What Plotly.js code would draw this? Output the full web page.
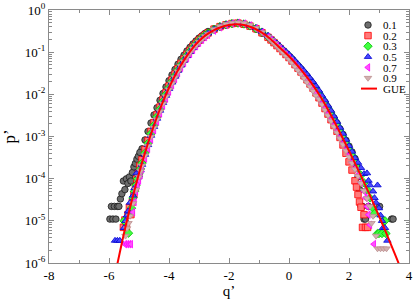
<!DOCTYPE html>
<html>
<head>
<meta charset="utf-8">
<script src="https://cdn.plot.ly/plotly-3.0.1.min.js"></script>
<style>html,body{margin:0;padding:0;background:#fff;}#chart{width:415px;height:299px;}</style>
</head>
<body>
<div id="chart"></div>
<script>
// ---- data ----
const seriesNames = ['0.1', '0.2', '0.3', '0.5', '0.7', '0.9'];
const xTickVals = [-8, -6, -4, -2, 0, 2, 4];
const xTickText = ['-8', '-6', '-4', '-2', '0', '2', '4'];
const yTickVals = [1e-6, 1e-5, 1e-4, 1e-3, 1e-2, 1e-1, 1];
const yTickText = ['10<sup>-6</sup>', '10<sup>-5</sup>', '10<sup>-4</sup>', '10<sup>-3</sup>', '10<sup>-2</sup>', '10<sup>-1</sup>', '10<sup>0</sup>'];

// shared histogram bins of the central part
const coreX = [-4.9,-4.8,-4.7,-4.6,-4.5,-4.4,-4.3,-4.2,-4.1,-4.0,-3.9,-3.8,-3.7,-3.6,-3.5,-3.4,-3.3,-3.2,-3.1,-3.0,-2.9,-2.8,-2.7,
  -2.5,-2.3,-2.1,-1.9,-1.7,-1.5,-1.3,-1.1,-0.9,
  -0.7,-0.6,-0.5,-0.4,-0.3,-0.2,-0.1,0.0,0.1,0.2,0.3,0.4,0.5,0.6,0.7,0.8,0.9,1.0,1.1,1.2,1.3,1.4,1.5,1.6,1.7,1.8,1.9,2.0,2.1,2.2];

// series 0.1
const y01Core = [5.1e-4,8.3e-4,1.32e-3,2.09e-3,3.24e-3,4.8e-3,7.2e-3,1.05e-2,1.5e-2,2.11e-2,2.88e-2,3.89e-2,5.19e-2,6.76e-2,8.5e-2,0.107,0.130,0.157,0.185,0.216,0.245,0.279,0.309,
  0.359,0.407,0.445,0.472,0.482,0.455,0.410,0.351,0.282,
  0.225,0.195,0.168,0.148,0.127,0.109,0.0933,0.080,0.0684,0.0569,0.0479,0.0398,0.0327,0.0269,0.0216,0.0176,0.0138,0.0108,8.3e-3,6.5e-3,4.9e-3,3.7e-3,2.75e-3,2.07e-3,1.51e-3,1.12e-3,8.1e-4,5.9e-4,4.3e-4,3.0e-4];
const x01Tail = [-5.97,-5.92,-5.87,-5.82,-5.77,-5.72,-5.67,-5.62,-5.57,-5.52,-5.47,-5.42,-5.37,-5.32,-5.27,-5.22,-5.17,-5.12,-5.07,-5.02,-4.97,
  2.25,2.3,2.35,2.4,2.45,2.5,2.55,2.65,3.02,3.42,3.47];
const y01Tail = [1.1e-5,2.2e-5,1.1e-5,2.2e-5,1.1e-5,2.2e-5,2.2e-5,3.3e-5,4.4e-5,8.8e-5,5.5e-5,9.9e-5,7.7e-5,1.1e-4,8.8e-5,1.4e-4,1.9e-4,2.3e-4,2.9e-4,3.4e-4,4.2e-4,
  2.0e-4,1.1e-4,5.5e-5,2.2e-5,2.2e-5,1.1e-5,1.1e-5,2.2e-5,2.2e-5,1.1e-5,1.1e-5];

// series 0.2
const y02Core = [2.8e-4,4.9e-4,8.0e-4,1.32e-3,2.14e-3,3.27e-3,5.0e-3,7.6e-3,1.10e-2,1.58e-2,2.19e-2,3.02e-2,4.07e-2,5.43e-2,6.92e-2,8.9e-2,0.110,0.135,0.161,0.192,0.224,0.254,0.285,
  0.351,0.403,0.445,0.478,0.488,0.460,0.415,0.359,0.288,
  0.225,0.195,0.168,0.143,0.122,0.1035,0.088,0.0746,0.0617,0.0507,0.0417,0.0339,0.0275,0.0221,0.0176,0.0140,0.0108,8.3e-3,6.2e-3,4.6e-3,3.4e-3,2.5e-3,1.82e-3,1.33e-3,9.5e-4,6.3e-4,4.0e-4,2.5e-4,1.6e-4,8.9e-5];
const x02Tail = [-5.52,-5.47,-5.42,-5.37,-5.32,-5.27,-5.22,-5.17,-5.12,-5.07,-5.02,-4.97,
  2.25,2.3,2.35,2.4,2.45,2.5,2.55,2.62];
const y02Tail = [7e-6,1.05e-5,7e-6,1.4e-5,2.1e-5,1.4e-5,2.8e-5,4.2e-5,6.3e-5,9.8e-5,1.3e-4,2.0e-4,
  6.3e-5,4.2e-5,2.8e-5,2.1e-5,7e-6,1.4e-5,7e-6,7e-6];

// series 0.3
const y03Core = [2.34e-4,4.07e-4,6.9e-4,1.17e-3,1.86e-3,2.95e-3,4.47e-3,6.8e-3,1.0e-2,1.43e-2,2.02e-2,2.75e-2,3.8e-2,5.0e-2,6.53e-2,8.4e-2,0.105,0.129,0.157,0.186,0.219,0.251,0.282,
  0.347,0.403,0.447,0.476,0.488,0.466,0.420,0.363,0.299,
  0.234,0.204,0.176,0.151,0.129,0.111,0.0955,0.0813,0.0684,0.0569,0.0473,0.0389,0.032,0.026,0.0211,0.0170,0.0133,0.0105,7.9e-3,6.0e-3,4.6e-3,3.4e-3,2.5e-3,1.84e-3,1.33e-3,9.5e-4,6.8e-4,5.0e-4,3.55e-4,2.5e-4];
const x03Tail = [-5.5,-5.35,-5.3,-5.25,-5.2,-5.15,-5.1,-5.05,-5.0,-4.95,
  2.3,2.4,2.5,2.6,2.7,2.8,2.85,2.95,3.0,3.1,3.15,3.2,3.23];
const y03Tail = [1.0e-5,5.1e-6,1.5e-5,2.0e-5,3.5e-5,5e-5,7e-5,1.0e-4,1.3e-4,1.7e-4,
  1.75e-4,1.2e-4,8.0e-5,5.5e-5,3.5e-5,2.0e-5,1.5e-5,5e-6,5e-6,5e-6,1.0e-5,1.0e-5,5e-6];

// series 0.5
const y05Core = [2.14e-4,3.7e-4,6.3e-4,1.05e-3,1.70e-3,2.66e-3,4.12e-3,6.3e-3,9.3e-3,1.35e-2,1.91e-2,2.63e-2,3.63e-2,4.84e-2,6.3e-2,8.1e-2,0.1016,0.126,0.153,0.183,0.214,0.247,0.279,
  0.347,0.403,0.452,0.483,0.495,0.473,0.432,0.376,0.309,
  0.248,0.216,0.186,0.162,0.140,0.120,0.1035,0.089,0.075,0.063,0.0525,0.0437,0.0363,0.0299,0.0243,0.0197,0.0157,0.0123,9.3e-3,7.2e-3,5.4e-3,4.1e-3,3.0e-3,2.24e-3,1.62e-3,1.17e-3,8.4e-4,6.0e-4,4.4e-4,3.1e-4];
const x05Tail = [-5.8,-5.72,-5.64,-5.5,-5.45,-5.4,-5.36,-5.3,-5.2,-5.15,-5.08,-5.0,-4.95,
  2.3,2.4,2.5,2.6,2.65,2.7,2.8,2.85,2.9,2.95,3.0,3.05,3.1,3.13,3.2,3.28];
const y05Tail = [3.4e-6,3.4e-6,3.4e-6,6.8e-6,1.0e-5,1.35e-5,1.7e-5,2.7e-5,4.0e-5,6.0e-5,1.35e-4,1.2e-4,1.6e-4,
  2.4e-4,1.8e-4,1.3e-4,1.35e-4,9e-5,7e-5,5e-5,3.5e-5,2.7e-5,7e-5,2.0e-5,1.35e-5,1.0e-5,6.8e-6,6.8e-6,3.4e-6];

// series 0.7
const y07Core = [1.70e-4,3.0e-4,5.1e-4,8.5e-4,1.41e-3,2.24e-3,3.5e-3,5.4e-3,7.9e-3,1.16e-2,1.64e-2,2.29e-2,3.16e-2,4.27e-2,5.56e-2,7.2e-2,9.1e-2,0.1135,0.139,0.1675,0.197,0.228,0.257,
  0.324,0.389,0.442,0.479,0.495,0.476,0.43,0.367,0.295,
  0.230,0.197,0.168,0.143,0.120,0.101,0.0851,0.0713,0.0589,0.0484,0.0398,0.0324,0.0263,0.0211,0.0168,0.0133,0.0105,8.1e-3,6.1e-3,4.6e-3,3.4e-3,2.48e-3,1.82e-3,1.32e-3,9.4e-4,6.8e-4,4.8e-4,3.5e-4,2.45e-4,1.74e-4];
const x07Tail = [-5.47,-5.4,-5.33,-5.27,-5.2,-5.15,-5.1,-5.05,-5.0,-4.95,
  2.3,2.4,2.5,2.55,2.6,2.65,2.7,2.83];
const y07Tail = [2.8e-6,2.8e-6,2.8e-6,2.8e-6,1.6e-5,2.8e-5,5e-5,7e-5,9.0e-5,1.2e-4,
  1.2e-4,8e-5,5e-5,3.5e-5,2.2e-5,1.4e-5,8e-6,2.8e-6];

// series 0.9
const y09Core = [2.04e-4,3.55e-4,6.0e-4,9.9e-4,1.62e-3,2.54e-3,3.94e-3,6.0e-3,8.9e-3,1.29e-2,1.82e-2,2.53e-2,3.47e-2,4.65e-2,6.0e-2,7.8e-2,9.8e-2,0.121,0.147,0.175,0.206,0.237,0.269,
  0.347,0.407,0.46,0.494,0.505,0.482,0.435,0.372,0.295,
  0.229,0.195,0.164,0.138,0.116,0.0977,0.0813,0.0684,0.0562,0.0457,0.0372,0.0302,0.0243,0.0193,0.0153,0.0120,9.3e-3,7.8e-3,5.75e-3,4.27e-3,3.16e-3,2.34e-3,1.72e-3,1.24e-3,9.0e-4,6.5e-4,4.6e-4,3.3e-4,2.34e-4,1.66e-4];
const x09Tail = [-5.45,-5.4,-5.35,-5.3,-5.2,-5.1,-5.0,-4.95,
  2.3,2.4,2.5,2.6,2.7,2.75,2.8,2.9,2.95,3.05,3.15,3.25];
const y09Tail = [4.4e-6,6.6e-6,8.8e-6,1.3e-5,2.6e-5,5.5e-5,1.1e-4,1.5e-4,
  1.15e-4,7.8e-5,5.2e-5,3.4e-5,2.2e-5,8.8e-6,1.3e-5,4.4e-6,2.2e-6,2.2e-6,2.2e-6,2.2e-6];

// GUE curve
const gueX = [-6.0,-5.75,-5.5,-5.25,-5.0,-4.75,-4.5,-4.25,-4.0,-3.75,-3.5,-3.25,-3.0,-2.75,-2.5,-2.25,-2.0,-1.75,-1.5,-1.25,-1.0,-0.75,-0.5,-0.25,0.0,0.25,0.5,0.75,1.0,1.25,1.5,1.75,2.0,2.25,2.5,2.75,3.0,3.25,3.5,3.75,4.0];
const gueY = [9.6e-8,7.6e-7,5.1e-6,2.84e-5,1.34e-4,5.38e-4,1.85e-3,5.51e-3,1.43e-2,3.24e-2,6.48e-2,0.1154,0.1836,0.260,0.335,0.395,0.44,0.46,0.44,0.39,0.32,0.245,0.172,0.117,0.080,0.0513,0.0316,0.0184,0.0100,5.0e-3,2.34e-3,1.04e-3,4.58e-4,1.96e-4,8.18e-5,3.31e-5,1.30e-5,4.96e-6,1.84e-6,6.62e-7,2.32e-7];

// ---- styling ----
const styles = [
  {symbol: 'circle', fill: '#6e6e6e', line: '#1a1a1a'},
  {symbol: 'square', fill: '#ff7a7a', line: '#ff0000'},
  {symbol: 'diamond', fill: '#40ff40', line: '#00c000'},
  {symbol: 'triangle-up', fill: '#4a4aff', line: '#0000d0'},
  {symbol: 'triangle-left', fill: '#ff50ff', line: '#ff00ff'},
  {symbol: 'triangle-down', fill: '#d2b0b0', line: '#bc8f8f'}
];
const seriesX = [coreX.concat(x01Tail), coreX.concat(x02Tail), coreX.concat(x03Tail), coreX.concat(x05Tail), coreX.concat(x07Tail), coreX.concat(x09Tail)];
const seriesY = [y01Core.concat(y01Tail), y02Core.concat(y02Tail), y03Core.concat(y03Tail), y05Core.concat(y05Tail), y07Core.concat(y07Tail), y09Core.concat(y09Tail)];

const traces = seriesNames.map((name, i) => ({
  type: 'scatter', mode: 'markers', name: name,
  x: seriesX[i], y: seriesY[i],
  marker: {symbol: styles[i].symbol, size: 6.5, color: styles[i].fill, line: {color: styles[i].line, width: 0.8}}
}));
traces.push({
  type: 'scatter', mode: 'lines', name: 'GUE', x: gueX, y: gueY,
  line: {color: '#ff0000', width: 2, shape: 'spline', smoothing: 0.6}
});

const axisColor = '#8a8a8a';
const serif = 'Liberation Serif, Times New Roman, serif';
const layout = {
  width: 415, height: 299,
  margin: {l: 49, r: 6, t: 10, b: 36},
  paper_bgcolor: '#fff', plot_bgcolor: '#fff',
  font: {family: serif, color: '#000', size: 13},
  showlegend: true,
  legend: {x: 0.8, y: 0.975, xanchor: 'left', yanchor: 'top', bgcolor: 'rgba(0,0,0,0)',
           font: {family: serif, size: 11, color: '#000'}, itemwidth: 30, tracegroupgap: 0},
  xaxis: {
    range: [-8, 4], tickmode: 'array', tickvals: xTickVals, ticktext: xTickText,
    ticks: 'inside', ticklen: 5, tickcolor: axisColor, tickwidth: 1,
    showline: true, linecolor: axisColor, linewidth: 1, mirror: 'ticks',
    showgrid: false, zeroline: false,
    minor: {ticks: 'inside', dtick: 1, ticklen: 3, tickcolor: axisColor, showgrid: false},
    tickfont: {family: serif, size: 13, color: '#000'},
    title: {text: 'q’', font: {family: serif, size: 15, color: '#000'}, standoff: 12}
  },
  yaxis: {
    type: 'log', range: [-6, 0], tickmode: 'array', tickvals: yTickVals, ticktext: yTickText,
    ticks: 'inside', ticklen: 5, tickcolor: axisColor, tickwidth: 1,
    showline: true, linecolor: axisColor, linewidth: 1, mirror: 'ticks',
    showgrid: false, zeroline: false,
    minor: {ticks: 'inside', dtick: 'D1', ticklen: 3, tickcolor: axisColor, showgrid: false},
    tickfont: {family: serif, size: 13, color: '#000'},
    title: {text: 'p’', font: {family: serif, size: 17, color: '#000'}, standoff: 7}
  }
};

Plotly.newPlot('chart', traces, layout, {staticPlot: true, displayModeBar: false}).then(function () {
  // place the legend compactly, as in the reference (symbols at x=368, rows 10.6 px apart)
  const legend = document.querySelector('#chart .legend');
  if (legend) legend.setAttribute('transform', 'translate(348,14)');
  document.querySelectorAll('#chart .legend .scrollbox').forEach(function (el) {
    el.removeAttribute('clip-path');
    el.setAttribute('transform', '');
  });
  document.querySelectorAll('#chart .legend .traces').forEach(function (g, i) {
    g.setAttribute('transform', 'translate(0,' + (11 + i * 10.6) + ')');
    const txt = g.querySelector('.legendtext');
    if (txt) {
      txt.setAttribute('x', 35);
      txt.querySelectorAll('tspan').forEach(function (s) { if (s.hasAttribute('x')) s.setAttribute('x', 35); });
    }
    g.querySelectorAll('.legendpoints path').forEach(function (p) { p.setAttribute('transform', 'translate(20,0)'); });
  });
  document.querySelectorAll('#chart .legend .legendlines path').forEach(function (p) {
    p.setAttribute('d', 'M13,0h16');
  });
});
</script>
</body>
</html>
